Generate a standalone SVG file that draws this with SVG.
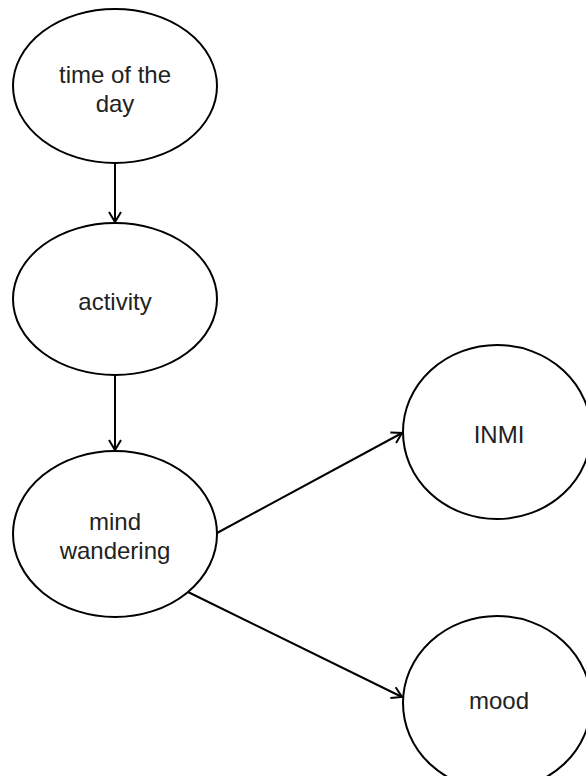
<svg xmlns="http://www.w3.org/2000/svg" width="586" height="776" viewBox="0 0 586 776">
  <style>
    .node ellipse { fill: #ffffff; stroke: #000000; stroke-width: 2; }
    .node text { font-family: "Liberation Sans", Arial, sans-serif; font-size: 24px; fill: #222222; text-anchor: middle; }
    .edge { fill: none; stroke: #000000; stroke-width: 2; marker-end: url(#arrow); }
  </style>
  <defs>
    <marker id="arrow" markerUnits="userSpaceOnUse" markerWidth="14" markerHeight="16" viewBox="-12 -8 14 16" refX="0" refY="0" orient="auto">
      <path d="M-10,-6 L0,0 L-10,6" fill="none" stroke="#000000" stroke-width="2" stroke-linejoin="miter"/>
    </marker>
  </defs>
  <rect width="586" height="776" fill="#ffffff"/>

  <g id="connectors">
    <line class="edge" x1="115" y1="163" x2="115" y2="222"/>
    <line class="edge" x1="115" y1="375" x2="115" y2="450"/>
    <line class="edge" x1="217" y1="533" x2="402" y2="433"/>
    <line class="edge" x1="188" y1="592" x2="402" y2="697"/>
  </g>

  <g id="time-of-the-day" class="node">
    <ellipse cx="115" cy="86" rx="102" ry="77"/>
    <text x="115" y="83">time of the</text>
    <text x="115" y="112">day</text>
  </g>

  <g id="activity" class="node">
    <ellipse cx="115" cy="299" rx="102" ry="76"/>
    <text x="115" y="310">activity</text>
  </g>

  <g id="mind-wandering" class="node">
    <ellipse cx="115" cy="534" rx="102" ry="83"/>
    <text x="115" y="530">mind</text>
    <text x="115" y="559">wandering</text>
  </g>

  <g id="inmi" class="node">
    <ellipse cx="497" cy="432" rx="94" ry="87"/>
    <text x="499" y="443">INMI</text>
  </g>

  <g id="mood" class="node">
    <ellipse cx="497" cy="703" rx="94" ry="87"/>
    <text x="499" y="709">mood</text>
  </g>
</svg>
